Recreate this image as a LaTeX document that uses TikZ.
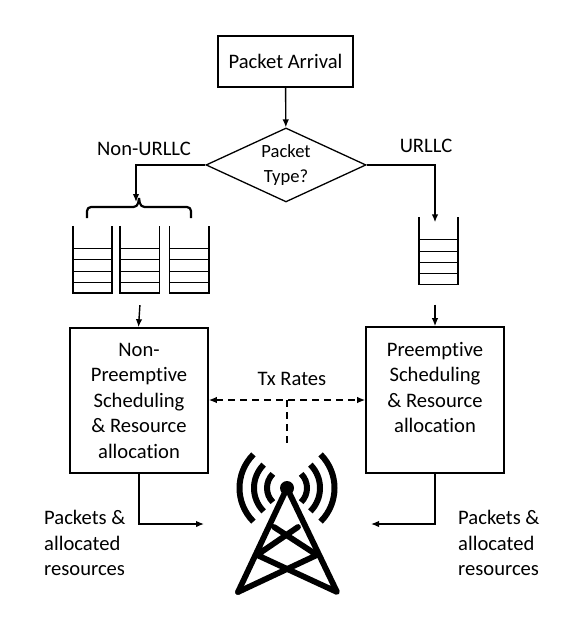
\documentclass[tikz,border=0pt]{standalone}
\usepackage{fontspec}
\setmainfont[Ligatures=NoCommon]{Carlito}
\usetikzlibrary{arrows.meta,positioning,calc,shapes.geometric}
\tikzset{
  box/.style={draw=black, line width=1.6pt, align=center, inner sep=0pt, font=\fontsize{20.6}{25.5}\selectfont},
  decision/.style={diamond, aspect=2.16, draw=black, line width=1.3pt, align=center, inner sep=0pt, minimum width=160pt, minimum height=74pt, font=\fontsize{18.6}{25}\selectfont},
  label/.style={align=left, inner sep=0pt, font=\fontsize{20.6}{25.5}\selectfont},
  slot/.style={minimum width=39pt, minimum height=67pt, inner sep=0pt},
  arrow/.style={-{Latex[length=8pt,width=6.5pt]}, line width=1.4pt, draw=black},
  dasharrow/.style={{Latex[length=8pt,width=6.5pt]}-{Latex[length=8pt,width=6.5pt]}, line width=1.4pt, dash pattern=on 7pt off 5pt},
  queue/.style={line width=1.5pt},
  mast/.style={line width=5.8pt, line join=round, line cap=round},
  wave/.style={line width=6pt}
}
\begin{document}
\begin{tikzpicture}[x=1pt, y=-1pt]
\useasboundingbox (0,0) rectangle (567,634);

\node[box, minimum width=135pt, minimum height=51pt] (arrival) at (285.5,61.5) {Packet Arrival};
\node[decision, below=39.5pt of arrival, xshift=0.5pt] (type) {\raisebox{-1pt}{Packet}\\\raisebox{-1.5pt}{Type?}};

\node[slot] (q1) at (92.5,259.5) {};
\node[slot, right=8pt of q1] (q2) {};
\node[slot, right=10pt of q2] (q3) {};
\node[slot] (q4) at (438.5,251) {};

\node[box, minimum width=138pt, minimum height=145pt] (nonpre) at (139,400.5) {Non-\\Preemptive\\Scheduling\\\&~Resource\\allocation};
\node[box, minimum width=138pt, minimum height=146pt] (pre) at (435,400) {Preemptive\\Scheduling\\\&~Resource\\allocation\\~};

\node[label] (nonurllc) at (144,149) {Non-URLLC};
\node[label] (urllc) at (426,146) {URLLC};
\node[label] (txrates) at (292,379) {Tx Rates};
\node[label, anchor=west] (pktleft) at (44,543) {Packets \&\\allocated\\resources};
\node[label, anchor=west] (pktright) at (458,543) {Packets \&\\allocated\\resources};

\coordinate (apex) at (287,488);
\coordinate (baseleft) at (238,592);
\coordinate (baseright) at (337,592);
\coordinate (braceleft) at (87,218);
\coordinate (braceright) at (191,218);
\coordinate (bracetip) at (139,198);
\coordinate (txjoin) at (287,400);
\coordinate (txend) at (287,446);
\coordinate (inleft) at (204,524);
\coordinate (inright) at (371,524);

% queues
\foreach \q in {q1,q2,q3,q4} {
  \draw[queue] (\q.north west) -- (\q.south west) -- (\q.south east) -- (\q.north east);
  \foreach \h in {0.16,0.33,0.50,0.67} {
    \draw[line width=0.9pt] ($(\q.south west)!\h!(\q.north west)$) -- ($(\q.south east)!\h!(\q.north east)$);
  }
}

% brace over the three queues
\draw[line width=2.2pt, rounded corners=4pt] (braceleft) -- (87,207) -- (137.5,207) -- (bracetip);
\draw[line width=2.2pt, rounded corners=4pt] (braceright) -- (191,207) -- (140.5,207) -- (bracetip);

\draw[arrow] (arrival) -- (type);
\draw[arrow] (type.west) -| ([xshift=-3pt,yshift=-4pt]bracetip);
\draw[arrow] (type.east) -| ([yshift=-5pt]q4.north -| pre.north);
\draw[arrow] ([yshift=-12pt]q2.south) -- ([xshift=-0.5pt]nonpre.north);
\draw[arrow] ([yshift=-20pt]q4.south -| pre.north) -- (pre.north);

\draw[dasharrow] (nonpre.east |- txjoin) -- (pre.west |- txjoin);
\draw[line width=1.4pt, dash pattern=on 7pt off 5pt] (txjoin) -- (txend);

\draw[arrow] (nonpre.south) |- (inleft);
\draw[arrow] (pre.south) |- (inright);

% tower
\draw[mast] (baseleft) -- (apex) -- (baseright) -- (257,555) -- (298,527);
\draw[mast] (baseleft) -- (317,555) -- (274,527);
\fill (apex) circle (7pt);
\foreach \r in {20,33,47.5} {
  \draw[wave] ($(apex)+(135:\r)$) arc[start angle=135, end angle=225, radius=\r];
  \draw[wave] ($(apex)+(45:\r)$) arc[start angle=45, end angle=-45, radius=\r];
}
\end{tikzpicture}
\end{document}
